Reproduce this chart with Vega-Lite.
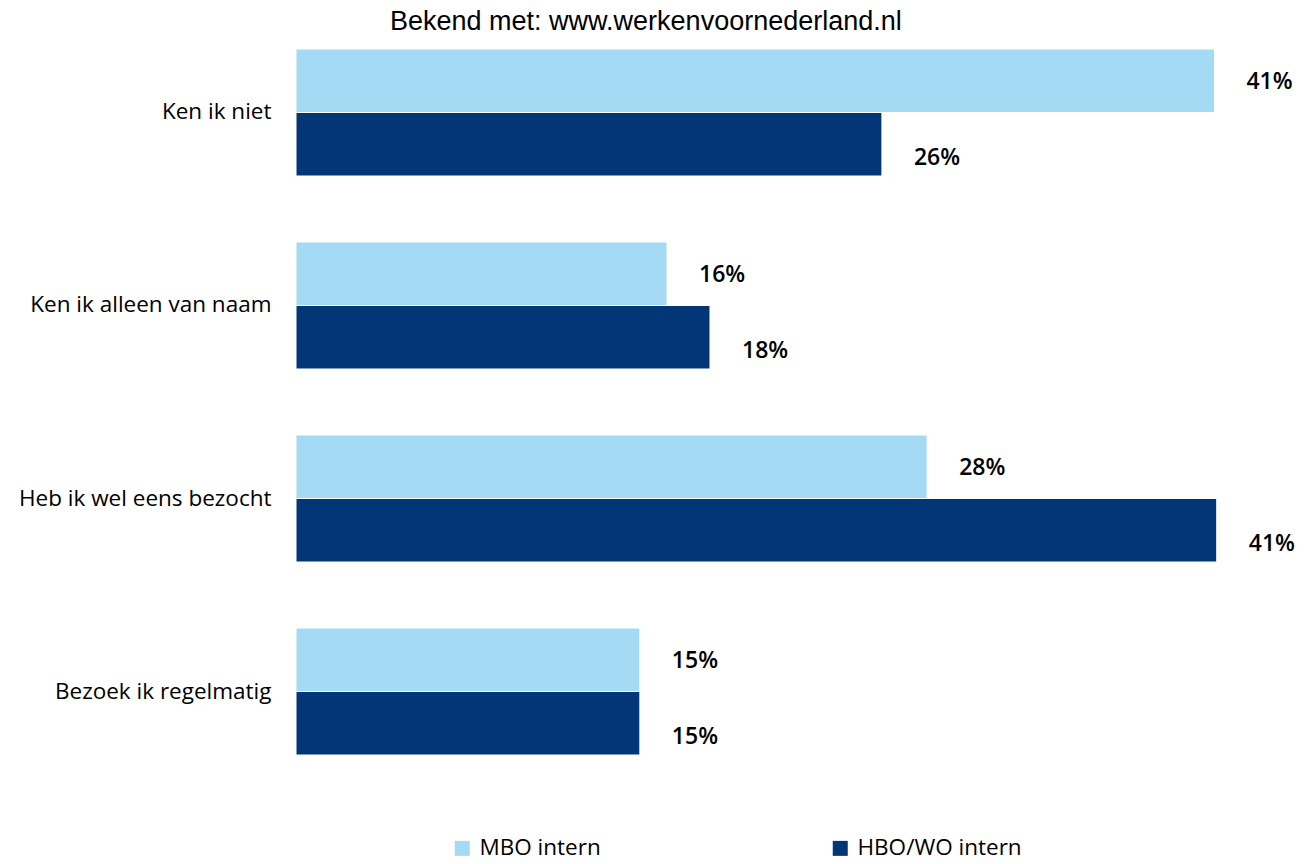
{
  "$schema": "https://vega.github.io/schema/vega-lite/v6.json",
  "autosize": {"type": "none"},
  "padding": {"left": 296, "top": 40, "right": 2, "bottom": 100},
  "width": 1018,
  "height": 724,
  "background": "white",
  "config": {"view": {"stroke": null}},
  "title": {
    "text": "Bekend met: www.werkenvoornederland.nl",
    "font": "Liberation Sans",
    "fontSize": 27,
    "fontWeight": "normal",
    "color": "#000000",
    "anchor": "start",
    "frame": "group",
    "dx": 94,
    "offset": 4
  },
  "data": {
    "values": [
      {"categorie": "Ken ik niet", "groep": "MBO intern", "aandeel": 0.406},
      {"categorie": "Ken ik niet", "groep": "HBO/WO intern", "aandeel": 0.259},
      {"categorie": "Ken ik alleen van naam", "groep": "MBO intern", "aandeel": 0.164},
      {"categorie": "Ken ik alleen van naam", "groep": "HBO/WO intern", "aandeel": 0.183},
      {"categorie": "Heb ik wel eens bezocht", "groep": "MBO intern", "aandeel": 0.279},
      {"categorie": "Heb ik wel eens bezocht", "groep": "HBO/WO intern", "aandeel": 0.407},
      {"categorie": "Bezoek ik regelmatig", "groep": "MBO intern", "aandeel": 0.152},
      {"categorie": "Bezoek ik regelmatig", "groep": "HBO/WO intern", "aandeel": 0.152}
    ]
  },
  "encoding": {
    "y": {
      "field": "categorie",
      "type": "nominal",
      "sort": null,
      "title": null,
      "scale": {"paddingInner": 0.342, "paddingOuter": 0.0466},
      "axis": {
        "domain": false,
        "ticks": false,
        "labelPadding": 25,
        "labelFont": "Open Sans",
        "labelFontSize": 22.5,
        "labelColor": "#000000",
        "labelLimit": 300
      }
    },
    "yOffset": {
      "field": "groep",
      "type": "nominal",
      "sort": ["MBO intern", "HBO/WO intern"],
      "scale": {"paddingInner": 0, "paddingOuter": 0}
    },
    "x": {
      "field": "aandeel",
      "type": "quantitative",
      "scale": {"domain": [0, 0.45], "nice": false},
      "axis": null
    }
  },
  "layer": [
    {
      "mark": {"type": "bar", "stroke": "white", "strokeWidth": 1},
      "encoding": {
        "color": {
          "field": "groep",
          "type": "nominal",
          "scale": {
            "domain": ["MBO intern", "HBO/WO intern"],
            "range": ["#a4daf4", "#033676"]
          },
          "legend": {
            "title": null,
            "orient": "none",
            "legendX": 155,
            "legendY": 797,
            "direction": "horizontal",
            "symbolType": "square",
            "symbolSize": 225,
            "symbolStrokeWidth": 0,
            "labelFont": "Open Sans",
            "labelFontSize": 22.5,
            "labelColor": "#000000",
            "labelOffset": 6,
            "labelLimit": 400,
            "columnPadding": 228
          }
        }
      }
    },
    {
      "transform": [{"filter": "datum.groep === 'MBO intern'"}],
      "mark": {
        "type": "text",
        "align": "left",
        "baseline": "middle",
        "dx": 32,
        "dy": 1,
        "font": "Open Sans",
        "fontSize": 23,
        "fontWeight": 600,
        "color": "#000000"
      },
      "encoding": {
        "text": {"field": "aandeel", "type": "quantitative", "format": ".0%"}
      }
    },
    {
      "transform": [{"filter": "datum.groep === 'HBO/WO intern'"}],
      "mark": {
        "type": "text",
        "align": "left",
        "baseline": "middle",
        "dx": 32,
        "dy": 14,
        "font": "Open Sans",
        "fontSize": 23,
        "fontWeight": 600,
        "color": "#000000"
      },
      "encoding": {
        "text": {"field": "aandeel", "type": "quantitative", "format": ".0%"}
      }
    }
  ]
}
